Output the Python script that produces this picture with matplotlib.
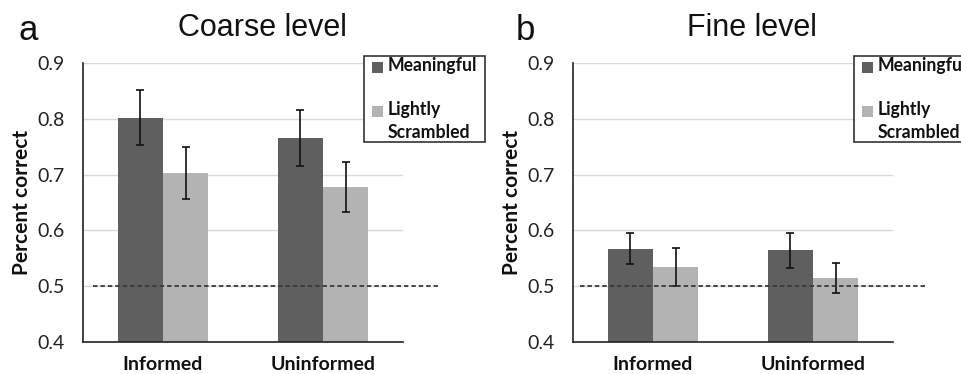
import matplotlib
matplotlib.use("Agg")
import matplotlib.pyplot as plt
from matplotlib.patches import Rectangle
import numpy as np

# ---- data ----
groups = ["Informed", "Uninformed"]
series = ["Meaningful", "Lightly\nScrambled"]
coarse_meaningful = [0.802, 0.765]
coarse_meaningful_err = [0.049, 0.050]
coarse_scrambled = [0.703, 0.678]
coarse_scrambled_err = [0.046, 0.045]
fine_meaningful = [0.567, 0.564]
fine_meaningful_err = [0.028, 0.031]
fine_scrambled = [0.534, 0.514]
fine_scrambled_err = [0.034, 0.027]
chance = 0.5
yticks = [0.4, 0.5, 0.6, 0.7, 0.8, 0.9]
titles = ["Coarse level", "Fine level"]
panel_letters = ["a", "b"]

DARK = "#5f5f5f"
LIGHT = "#b3b3b3"
GRID = "#d9d9d9"
W, H = 961, 374

fig = plt.figure(figsize=(W / 100, H / 100), dpi=100)
fig.patch.set_facecolor("white")

UI = "Lato"
TITLE_FONT = "Liberation Sans"

panels = [
    (83, coarse_meaningful, coarse_meaningful_err, coarse_scrambled, coarse_scrambled_err),
    (573, fine_meaningful, fine_meaningful_err, fine_scrambled, fine_scrambled_err),
]

bw = 0.284
x = np.array([0.5, 1.5])
for i, (x0, m, me, s, se) in enumerate(panels):
    ax = fig.add_axes([x0 / W, 1 - 342 / H, 320 / W, (342 - 63) / H])
    ax.set_xlim(0, 2)
    ax.set_ylim(0.4, 0.9)
    for yv in yticks[1:]:
        ax.axhline(yv, color=GRID, lw=1.0, zorder=0)
    ax.bar(x - bw / 2, m, bw, bottom=0, color=DARK, zorder=2)
    ax.bar(x + bw / 2, s, bw, bottom=0, color=LIGHT, zorder=2)
    ax.errorbar(x - bw / 2, m, yerr=me, fmt="none", ecolor="#111111",
                elinewidth=1.2, capsize=2.6, capthick=1.2, zorder=3)
    ax.errorbar(x + bw / 2, s, yerr=se, fmt="none", ecolor="#111111",
                elinewidth=1.2, capsize=2.6, capthick=1.2, zorder=3)
    ax.plot([0.06 if i == 0 else 0.045, 2.22 if i == 0 else 2.2], [chance, chance],
            color="#3a3a3a", lw=1.3, ls=(0, (2.5, 1.6)), zorder=4, clip_on=False)
    for sp in ["top", "right"]:
        ax.spines[sp].set_visible(False)
    for sp in ["left", "bottom"]:
        ax.spines[sp].set_color("#222222")
        ax.spines[sp].set_linewidth(1.2)
    ax.set_yticks(yticks)
    ax.set_yticklabels([f"{v:.1f}" for v in yticks], fontfamily=UI, fontsize=14,
                       color="#222222")
    ax.set_xticks(x)
    ax.set_xticklabels(groups, fontfamily=UI, fontweight="bold", fontsize=14,
                       color="#111111")
    ax.tick_params(axis="y", length=0, pad=13)
    ax.tick_params(axis="x", length=0, pad=10)
    ax.set_ylabel("Percent correct", fontfamily=UI, fontweight="bold",
                  fontsize=15, color="#111111", labelpad=4)

    # title and panel letter
    fig.text((x0 + 179) / W, 1 - 28 / H, titles[i], fontfamily=TITLE_FONT,
             fontsize=22, ha="center", va="center", color="#111111")
    fig.text((x0 - 64 + (7 if i else 0)) / W, 1 - 31 / H, panel_letters[i],
             fontfamily=TITLE_FONT, fontsize=25, ha="left", va="center",
             color="#111111")

    # legend (manual box)
    bx = x0 + 281
    fig.add_artist(Rectangle((bx / W, 1 - 142 / H), 121 / W, 86 / H,
                             transform=fig.transFigure, facecolor="white",
                             edgecolor="#333333", lw=1.2, zorder=5))
    fig.add_artist(Rectangle(((bx + 8) / W, 1 - 73 / H), 11 / W, 11 / H,
                             transform=fig.transFigure, facecolor=DARK,
                             edgecolor="none", zorder=6))
    fig.add_artist(Rectangle(((bx + 8) / W, 1 - 116.5 / H), 11 / W, 11 / H,
                             transform=fig.transFigure, facecolor=LIGHT,
                             edgecolor="none", zorder=6))
    fig.text((bx + 24) / W, 1 - 66 / H, series[0], fontfamily=UI,
             fontweight="bold", fontsize=12.7, ha="left", va="center",
             color="#111111", zorder=7)
    fig.text((bx + 24) / W, 1 - 109 / H, series[1].split("\n")[0], fontfamily=UI,
             fontweight="bold", fontsize=12.7, ha="left", va="center",
             color="#111111", zorder=7)
    fig.text((bx + 24) / W, 1 - 132 / H, series[1].split("\n")[1], fontfamily=UI,
             fontweight="bold", fontsize=12.7, ha="left", va="center",
             color="#111111", zorder=7)

fig.savefig("out.png", dpi=100, facecolor="white")
